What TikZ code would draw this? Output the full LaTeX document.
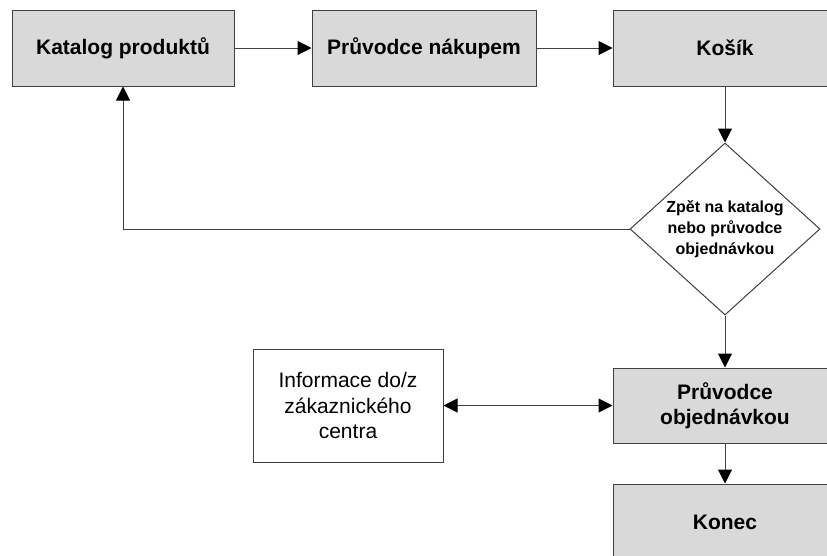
\documentclass[tikz,border=0pt]{standalone}
\usepackage{fontspec}
\setmainfont{Liberation Sans}
\usetikzlibrary{shapes.geometric,arrows.meta}
\definecolor{boxfill}{HTML}{D9D9D9}
\definecolor{edge}{HTML}{404040}
\tikzset{
  graybox/.style={draw=edge, line width=1pt, fill=boxfill, rectangle, inner sep=0pt,
    minimum width=224pt, minimum height=76pt, align=center,
    font=\fontsize{21}{25.5}\selectfont\bfseries},
  whitebox/.style={draw=edge, line width=1pt, fill=white, rectangle, inner sep=0pt,
    minimum width=190pt, minimum height=113pt, align=center,
    font=\fontsize{21}{25.5}\selectfont},
  decision/.style={draw=edge, line width=1pt, fill=white, diamond, inner sep=0pt, aspect=1.105,
    minimum width=190pt, minimum height=172pt, align=center,
    font=\fontsize{16}{21}\selectfont\bfseries},
  arr/.style={draw=edge, line width=1pt, -{Triangle[length=14pt,width=14pt,color=black]}},
  darr/.style={draw=edge, line width=1pt, {Triangle[length=14pt,width=14pt,color=black]}-{Triangle[length=14pt,width=14pt,color=black]}},
}
\begin{document}
\begin{tikzpicture}[x=1pt,y=-1pt]
\useasboundingbox (0,0) rectangle (827,555);
\clip (0,0) rectangle (827,555);
\fill[white] (0,0) rectangle (827,555);
\node[graybox, minimum width=222pt] (kat) at (123,48) {Katalog produktů};
\node[graybox] (pn) at (424,48) {Průvodce nákupem};
\node[graybox] (kos) at (725,48) {Košík};
\node[decision] (dia) at (725,229) {Zpět na katalog\\nebo průvodce\\objednávkou};
\node[whitebox] (info) at (348,405.5) {Informace do/z\\zákaznického\\centra};
\node[graybox, minimum height=75pt] (po) at (725,405.5) {Průvodce\\objednávkou};
\node[graybox] (kon) at (725,522) {Konec};
\draw[arr] (kat.east) -- (pn.west);
\draw[arr] (pn.east) -- (kos.west);
\draw[arr] (kos.south) -- (dia.north);
\draw[arr] (dia.west) -| (kat.south);
\draw[arr] (dia.south) -- (po.north);
\draw[darr] (info.east) -- (po.west);
\draw[arr] (po.south) -- (kon.north);
\end{tikzpicture}
\end{document}
